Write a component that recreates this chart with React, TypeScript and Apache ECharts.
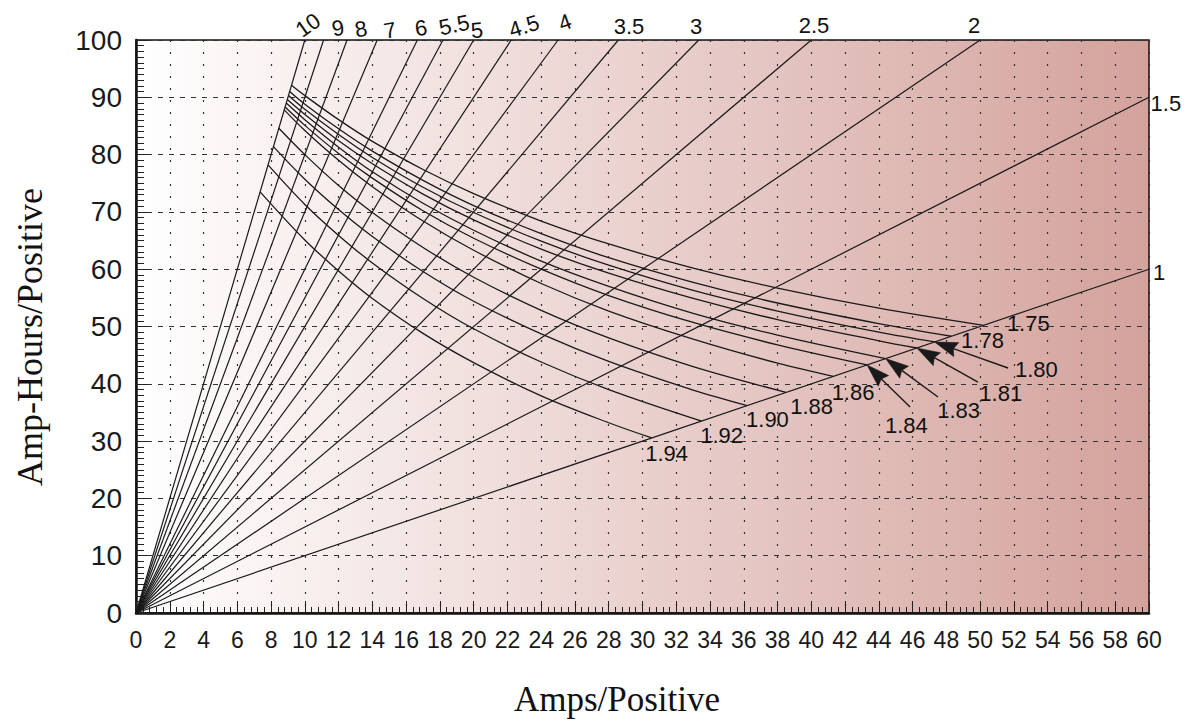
import React, { useEffect, useRef } from "react";
import * as echarts from "echarts";

// Discharge-rate lines (hours)
const rateHours = [10, 9, 8, 7, 6, 5.5, 5, 4.5, 4, 3.5, 3, 2.5, 2, 1.5, 1];
const rateLabels = ["10", "9", "8", "7", "6", "5.5", "5", "4.5", "4", "3.5", "3", "2.5", "2", "1.5", "1"];
const rateLabelPos = [
  [10.19, 102.6], [11.96, 102.1], [13.33, 101.9], [15.04, 101.7], [16.88, 102.1],
  [18.84, 102.6], [20.2, 101.7], [22.98, 102.4], [25.41, 103.1], [29.2, 102.3],
  [33.17, 102.3], [40.16, 102.6], [49.64, 102.6], [61.0, 88.9], [60.6, 59.5],
];
const rateLabelRot = [35, 10, 10, 10, 8, 12, 5, 18, 20, 0, 0, 0, 0, 0, 0];

// Final-voltage curves: [amps, amp-hours]
const v175 = [[9.21, 92.1], [10, 90.3], [12, 86.1], [14, 82.3], [17, 77.4], [20, 73.2], [24, 68.4], [28, 64.4], [33, 60.2], [38, 56.7], [44, 53.2], [50.2, 50.2]];
const v178 = [[9.1, 91.0], [10, 88.8], [12, 84.5], [14, 80.6], [17, 75.5], [20, 71.1], [24, 66.2], [28, 62.0], [33, 57.7], [38, 54.1], [44, 50.5], [48.3, 48.3]];
const v180 = [[9.03, 90.3], [10, 87.9], [12, 83.5], [14, 79.5], [17, 74.3], [20, 69.9], [24, 64.9], [28, 60.7], [33, 56.3], [38, 52.7], [44, 49.0], [47.3, 47.3]];
const v181 = [[8.96, 89.6], [10, 87.0], [12, 82.4], [14, 78.4], [17, 73.1], [20, 68.6], [24, 63.5], [28, 59.3], [33, 54.9], [38, 51.2], [44, 47.5], [46.25, 46.25]];
const v183 = [[8.9, 89.0], [10, 86.1], [12, 81.3], [14, 77.0], [17, 71.5], [20, 66.8], [24, 61.4], [28, 57.0], [33, 52.3], [38, 48.5], [44.4, 44.4]];
const v184 = [[8.83, 88.3], [10, 85.1], [12, 80.2], [14, 75.9], [17, 70.2], [20, 65.4], [24, 60.0], [28, 55.4], [33, 50.7], [38, 46.8], [43.3, 43.3]];
const v186 = [[8.78, 87.8], [10, 84.2], [12, 79.0], [14, 74.4], [17, 68.4], [20, 63.3], [24, 57.5], [28, 52.7], [33, 47.8], [38, 43.6], [41.3, 41.3]];
const v188 = [[8.46, 84.6], [10, 80.0], [12, 74.6], [14, 69.9], [17, 63.8], [20, 58.6], [24, 52.8], [28, 48.0], [33, 43.0], [38.5, 38.5]];
const v190 = [[8.14, 81.4], [10, 75.7], [12, 70.4], [14, 65.7], [17, 59.6], [20, 54.4], [24, 48.7], [28, 43.9], [33, 38.9], [36.2, 36.2]];
const v192 = [[7.82, 78.2], [10, 71.3], [12, 65.9], [14, 61.1], [17, 54.9], [20, 49.6], [24, 43.8], [28, 39.0], [33.5, 33.5]];
const v194 = [[7.35, 73.5], [10, 65.1], [12, 59.7], [14, 54.9], [17, 48.8], [20, 43.7], [24, 37.9], [28, 33.2], [30.55, 30.55]];

const voltNames = ["1.75", "1.78", "1.80", "1.81", "1.83", "1.84", "1.86", "1.88", "1.90", "1.92", "1.94"];
const voltCurves = [v175, v178, v180, v181, v183, v184, v186, v188, v190, v192, v194];
const voltLabelPos = [
  [52.85, 50.47], [50.14, 47.56], [53.33, 42.41], [51.22, 38.34], [48.72, 35.34],
  [45.63, 32.8], [42.47, 38.48], [40.02, 36.0], [37.4, 33.7], [34.69, 31.06], [31.43, 27.75],
];
// arrows: tail point -> end of the named curve
const arrowNames = ["1.84", "1.83", "1.81", "1.80"];
const arrowTails = [[45.85, 35.95], [47.5, 37.7], [49.87, 40.3], [51.65, 42.76]];

const xTicks = { min: 0, max: 60, interval: 2 };
const yTicks = { min: 0, max: 100, interval: 10 };

export default function App() {
  const ref = useRef<HTMLDivElement>(null);
  useEffect(() => {
    const chart = echarts.init(ref.current!, null, { renderer: "svg" });
    const ink = "#1a1a1a";
    const series: any[] = [];
    rateHours.forEach((h) => {
      const xe = Math.min(100 / h, 60);
      series.push({
        type: "line",
        data: [[0, 0], [xe, xe * h]],
        symbol: "none",
        lineStyle: { color: ink, width: 1.2 },
        silent: true,
        z: 3,
      });
    });
    voltCurves.forEach((pts, i) => {
      series.push({
        type: "line",
        name: voltNames[i],
        data: pts,
        symbol: "none",
        smooth: 0.35,
        lineStyle: { color: ink, width: 1.3 },
        silent: true,
        z: 3,
      });
    });

    const option: any = {
      animation: false,
      backgroundColor: "#ffffff",
      grid: {
        left: 136,
        right: 36,
        top: 40,
        bottom: 108,
        show: true,
        borderColor: "#111",
        borderWidth: 1.5,
        backgroundColor: new echarts.graphic.LinearGradient(0, 0, 1, 0, [
          { offset: 0, color: "#ffffff" },
          { offset: 1, color: "#d4a29c" },
        ]),
      },
      xAxis: {
        type: "value",
        ...xTicks,
        axisLine: { show: true, lineStyle: { color: "#111", width: 2.5 } },
        axisTick: { show: true, inside: true, length: 12, lineStyle: { color: "#222", width: 1 } },
        minorTick: { show: true, splitNumber: 5, length: 6, lineStyle: { color: "#222", width: 1 } },
        axisLabel: {
          fontSize: 23,
          fontFamily: "Liberation Sans",
          color: "#1a1a1a",
          margin: 15,
        },
        splitLine: { show: true, lineStyle: { color: "#333", width: 1.2, type: [2, 10] } },
      },
      yAxis: {
        type: "value",
        ...yTicks,
        axisLine: { show: true, lineStyle: { color: "#111", width: 2.5 } },
        axisTick: { show: true, inside: true, length: 12, lineStyle: { color: "#222", width: 1 } },
        minorTick: { show: true, splitNumber: 10, length: 8, lineStyle: { color: "#222", width: 1 } },
        axisLabel: {
          fontSize: 28,
          fontFamily: "Liberation Sans",
          color: "#1a1a1a",
          margin: 14,
        },
        splitLine: { show: true, lineStyle: { color: "#333", width: 1, type: [5, 6] } },
      },
      series,
    };
    chart.setOption(option);

    const toPx = (p: number[]) => chart.convertToPixel({ gridIndex: 0 }, p) as number[];
    const graphics: any[] = [];
    const numFont = '22px "Liberation Sans", Arial, sans-serif';
    const txt = (t: string, x: number, y: number, font: string, rot = 0) => ({
      type: "text",
      x,
      y,
      rotation: rot,
      z: 10,
      style: { text: t, font, fill: "#111", align: "center", verticalAlign: "middle", textAlign: "center", textVerticalAlign: "middle" },
    });
    rateLabels.forEach((t, i) => {
      const [px, py] = toPx(rateLabelPos[i]);
      graphics.push(txt(t, px, py, numFont, (rateLabelRot[i] * Math.PI) / 180));
    });
    voltNames.forEach((t, i) => {
      const [px, py] = toPx(voltLabelPos[i]);
      graphics.push(txt(t, px, py, numFont));
    });
    // arrows with filled heads
    const headLen = 23;
    const headHalf = 7.5;
    arrowNames.forEach((n, i) => {
      const pts = voltCurves[voltNames.indexOf(n)];
      const [tx, ty] = toPx(arrowTails[i]);
      const [ex, ey] = toPx(pts[pts.length - 1]);
      const dx = ex - tx;
      const dy = ey - ty;
      const len = Math.sqrt(dx * dx + dy * dy);
      const ux = dx / len;
      const uy = dy / len;
      const bx = ex - ux * headLen;
      const by = ey - uy * headLen;
      const nx = ex - ux * (headLen - 3);
      const ny = ey - uy * (headLen - 3);
      graphics.push({
        type: "line",
        z: 9,
        shape: { x1: tx, y1: ty, x2: nx, y2: ny },
        style: { stroke: ink, lineWidth: 1.4 },
      });
      graphics.push({
        type: "polygon",
        z: 9,
        shape: {
          points: [
            [ex, ey],
            [bx - uy * headHalf, by + ux * headHalf],
            [nx, ny],
            [bx + uy * headHalf, by - ux * headHalf],
          ],
        },
        style: { fill: ink, stroke: ink, lineWidth: 0.5 },
      });
    });
    graphics.push(txt("Amps/Positive", 617, 699, '35px "Liberation Serif", "Times New Roman", serif'));
    graphics.push(txt("Amp-Hours/Positive", 30, 337, '36px "Liberation Serif", "Times New Roman", serif', Math.PI / 2));
    chart.setOption({ graphic: graphics });

    return () => chart.dispose();
  }, []);
  return <div ref={ref} style={{ position: "fixed", left: 0, top: 0, width: 1185, height: 721 }} />;
}
